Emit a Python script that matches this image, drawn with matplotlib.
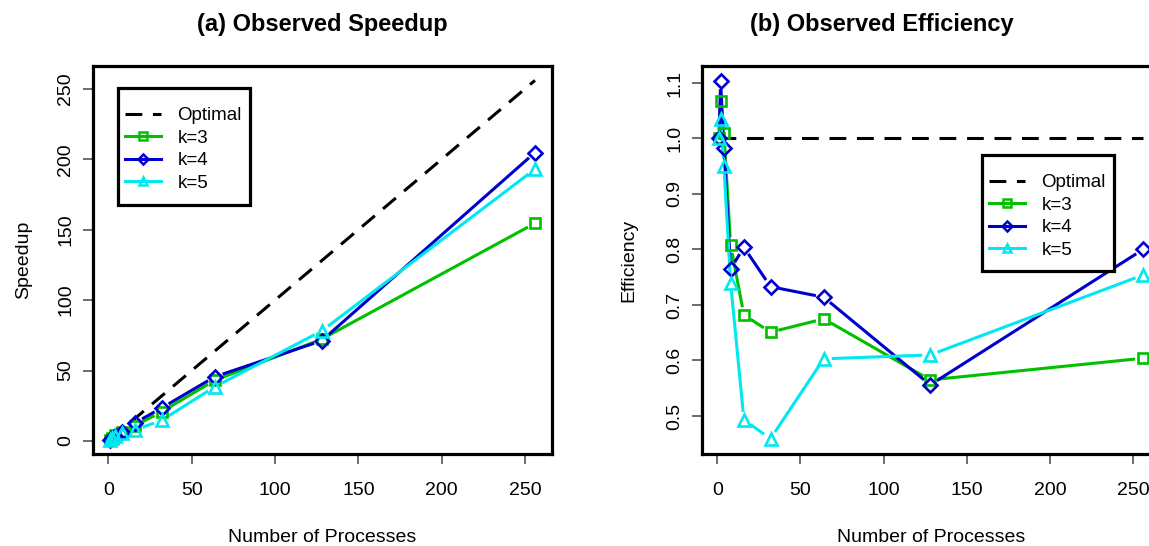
import matplotlib
matplotlib.use("Agg")
import matplotlib.pyplot as plt
from matplotlib.lines import Line2D
from matplotlib.patches import Rectangle

plt.rcParams['font.family'] = ['Liberation Sans', 'DejaVu Sans']

# data
procs = [1, 2, 4, 8, 16, 32, 64, 128, 256]

speedup_k3 = [1, 2.14, 4.04, 6.46, 10.9, 20.8, 43.2, 72.3, 154.6]
speedup_k4 = [1, 2.21, 3.93, 6.12, 12.9, 23.5, 45.7, 71.2, 204.8]
speedup_k5 = [1, 2.07, 3.80, 5.92, 7.9, 14.7, 38.6, 78.1, 193.0]

eff_k3 = [1.0, 1.068, 1.01, 0.808, 0.682, 0.651, 0.675, 0.565, 0.604]
eff_k4 = [1.0, 1.103, 0.983, 0.765, 0.804, 0.733, 0.714, 0.556, 0.800]
eff_k5 = [1.0, 1.035, 0.950, 0.740, 0.493, 0.459, 0.603, 0.610, 0.754]

optimal_x = [1, 256]
optimal_speedup = [1, 256]
optimal_eff = [1.0, 1.0]

series_names = ['k=3', 'k=4', 'k=5']
colors = ['#00C000', '#0000CD', '#00E8F0']
markers = ['s', 'D', '^']
msizes = [7.5, 7, 8.5]

W, H = 1149, 546
fig = plt.figure(figsize=(W / 100, H / 100), dpi=100)


def px_axes(l, r, t, b):
    return fig.add_axes([l / W, 1 - b / H, (r - l) / W, (b - t) / H])


ax1 = px_axes(93, 552, 66, 454)
ax2 = px_axes(702, 1160, 66, 454)

lw = 2.2
dash = (5.5, 3.5)


def style_axes(ax, xlim, ylim, yticks, yticklabels):
    ax.set_xlim(*xlim)
    ax.set_ylim(*ylim)
    ax.set_xticks([0, 50, 100, 150, 200, 250])
    ax.set_yticks(yticks)
    ax.set_yticklabels(yticklabels, rotation=90, va='center')
    for s in ax.spines.values():
        s.set_linewidth(2.3)
        s.set_color('black')
    ax.tick_params(direction='out', length=7.5, width=1.1, color='#444444',
                   labelsize=14, top=False, right=False)
    ax.tick_params(axis='x', pad=13)
    ax.tick_params(axis='y', pad=6)
    ax.set_xlabel('Number of Processes', fontsize=14, labelpad=21)


def draw_b(ax, x, y, color, marker, ms, gap=8):
    # R type="b": points joined by lines with gaps around each point
    pts = ax.transData.transform(list(zip(x, y)))
    inv = ax.transData.inverted()
    for (x0, y0), (x1, y1) in zip(pts[:-1], pts[1:]):
        dx, dy = x1 - x0, y1 - y0
        d = (dx ** 2 + dy ** 2) ** 0.5
        if d <= 2 * gap:
            continue
        ux, uy = dx / d, dy / d
        a = inv.transform((x0 + ux * gap, y0 + uy * gap))
        b = inv.transform((x1 - ux * gap, y1 - uy * gap))
        ax.plot([a[0], b[0]], [a[1], b[1]], color=color, lw=lw,
                solid_capstyle='butt', zorder=3)
    ax.plot(x, y, linestyle='none', marker=marker, ms=ms, mfc='none',
            mec=color, mew=1.9, zorder=4)


style_axes(ax1, (-9.2, 266.2), (-9.2, 266.2),
           [0, 50, 100, 150, 200, 250], ['0', '50', '100', '150', '200', '250'])
ax1.set_ylabel('Speedup', fontsize=14, labelpad=18)

style_axes(ax2, (-9.2, 266.2), (0.4315, 1.1306),
           [0.5, 0.6, 0.7, 0.8, 0.9, 1.0, 1.1],
           ['0.5', '0.6', '0.7', '0.8', '0.9', '1.0', '1.1'])
ax2.set_ylabel('Efficiency', fontsize=14, labelpad=21)

ax1.plot(optimal_x, optimal_speedup, color='black', lw=lw, dashes=dash, zorder=2)
ax2.plot(optimal_x, optimal_eff, color='black', lw=lw, dashes=dash, zorder=2)

for ys, c, m, ms in zip([speedup_k3, speedup_k4, speedup_k5], colors, markers, msizes):
    draw_b(ax1, procs, ys, c, m, ms)
for ys, c, m, ms in zip([eff_k3, eff_k4, eff_k5], colors, markers, msizes):
    draw_b(ax2, procs, ys, c, m, ms)

fig.text(322 / W, 1 - 25 / H, '(a) Observed Speedup', fontsize=17,
         fontweight='bold', ha='center', va='center')
fig.text(882 / W, 1 - 25 / H, '(b) Observed Efficiency', fontsize=17,
         fontweight='bold', ha='center', va='center')

handles = [Line2D([], [], color='black', lw=lw, dashes=dash)]
for c, m in zip(colors, markers):
    handles.append(Line2D([], [], color=c, lw=lw, marker=m, ms=5.5,
                          mfc='none', mec=c, mew=1.8))
labels = ['Optimal'] + series_names


def add_legend(ax, left, top, right, bottom):
    # R-style legend box: drawn as its own frame, entries placed inside
    box = Rectangle((left / W, 1 - bottom / H), (right - left) / W,
                    (bottom - top) / H, transform=fig.transFigure,
                    facecolor='white', edgecolor='black', lw=2.3,
                    zorder=5, clip_on=False)
    ax.add_patch(box)
    leg = ax.legend(handles, labels, loc='upper left',
                    bbox_to_anchor=((left + 7) / W, 1 - (top + 19) / H),
                    bbox_transform=fig.transFigure, fontsize=13.5,
                    frameon=False, borderaxespad=0, borderpad=0,
                    handlelength=1.9, handletextpad=0.9, labelspacing=0.29)
    leg.set_zorder(6)


add_legend(ax1, 118, 88, 250, 205)
add_legend(ax2, 982, 155, 1114, 271)

fig.savefig('out.png', dpi=100)
